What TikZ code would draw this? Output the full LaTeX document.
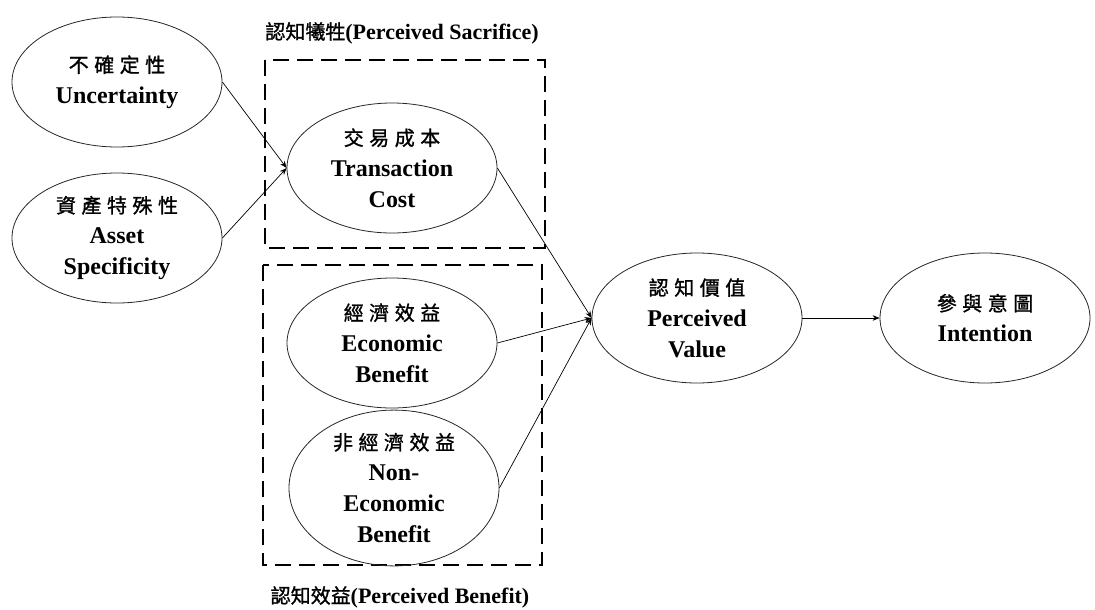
\documentclass[tikz,border=0pt]{standalone}
\usepackage{fontspec}
\setmainfont{Liberation Serif}
\newfontfamily\cjk[FakeBold=1.2]{Noto Sans CJK TC}
\usetikzlibrary{shapes.geometric,arrows.meta}
\newcommand\cg{\hspace{5.5pt}}
\newcommand\zh{\cjk\mdseries\fontsize{20}{24}\selectfont}
\begin{document}
\begin{tikzpicture}[x=1pt,y=-1pt,
  oval/.style={ellipse, draw=black!85, line width=0.8pt, minimum width=210pt,
    minimum height=130pt, inner sep=0pt, align=center,
    font=\bfseries\fontsize{24}{31}\selectfont},
  grp/.style={draw, line width=2.8pt, dash pattern=on 16pt off 8pt},
  lbl/.style={inner sep=0pt, font=\bfseries\fontsize{22}{26}\selectfont},
  link/.style={-{Stealth[length=7pt,width=5.5pt]}, line width=0.7pt}]
\useasboundingbox (0,0) rectangle (1095,610);

% group frames
\draw[grp] (265,60) rectangle (545,248);
\draw[grp] (263,265) rectangle (542,565);
\node[lbl] (sacl) at (402,33) {{\zh 認知犧牲}(Perceived Sacrifice)};
\node[lbl] (benl) at (400,597) {{\zh 認知效益}(Perceived Benefit)};

% constructs
\node[oval] (unc) at (117,82) {{\zh 不\cg 確\cg 定\cg 性}\\Uncertainty};
\node[oval] (asset) at (117,238) {{\zh 資\cg 產\cg 特\cg 殊\cg 性}\\Asset\\Specificity};
\node[oval] (tc) at (392,168) {{\zh 交\cg 易\cg 成\cg 本}\\Transaction\\Cost};
\node[oval] (eco) at (392,343) {{\zh 經\cg 濟\cg 效\cg 益}\\Economic\\Benefit};
\node[oval, minimum height=138pt] (neco) at (394,488) {{\zh 非\cg 經\cg 濟\cg 效\cg 益}\\Non-\\Economic\\Benefit};
\node[oval] (pv) at (697,318) {{\zh 認\cg 知\cg 價\cg 值}\\Perceived\\Value};
\node[oval] (int) at (985,318) {{\zh 參\cg 與\cg 意\cg 圖}\\Intention};

% paths
\draw[link] (unc.east) -- (tc.west);
\draw[link] (asset.east) -- (tc.west);
\draw[link] (tc.east) -- (pv.west);
\draw[link] (eco.east) -- (pv.west);
\draw[link] (neco.east) -- (pv.west);
\draw[link] (pv.east) -- (int.west);
\end{tikzpicture}
\end{document}
